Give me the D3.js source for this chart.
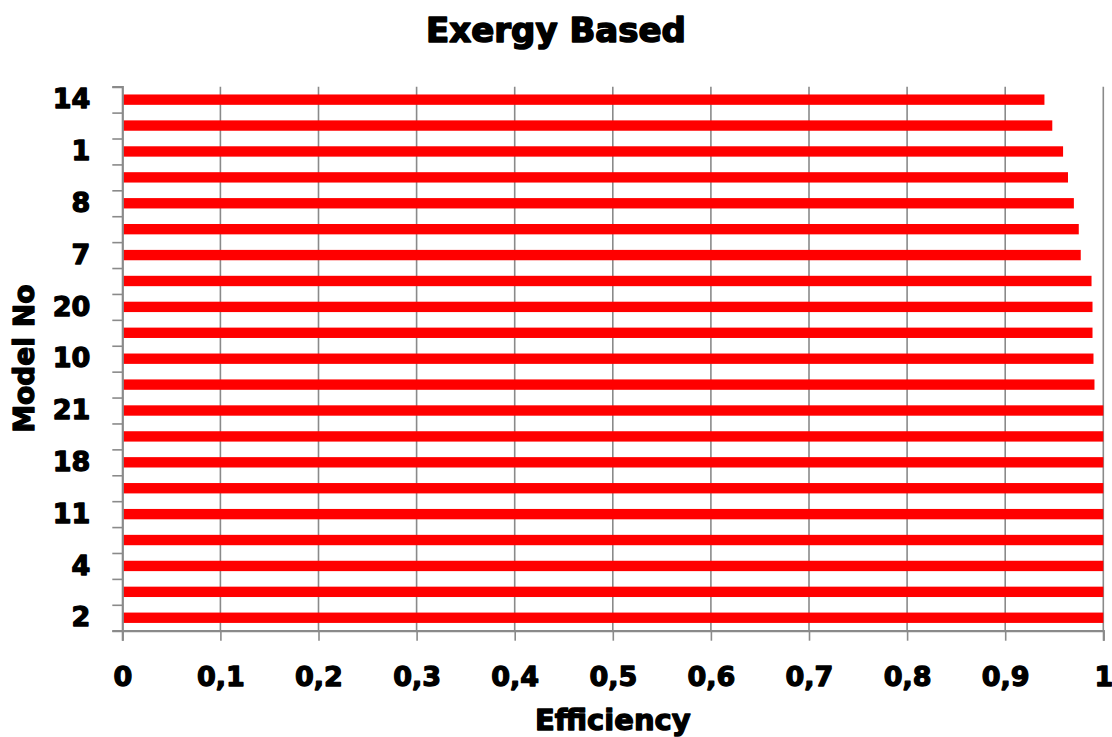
<!DOCTYPE html>
<html>
<head>
<meta charset="utf-8">
<script src="https://cdn.jsdelivr.net/npm/d3@7"></script>
<style>
  html, body { margin: 0; padding: 0; background: #fff; }
  svg { display: block; }
  text { font-family: "DejaVu Sans", sans-serif; font-weight: bold; fill: #000; }
</style>
</head>
<body>
<svg id="chart" width="1112" height="737"></svg>
<script>
// Categories listed from top bar to bottom bar
const models = ["14", "3", "1", "5", "8", "6", "7", "9", "20", "12", "10", "13", "21", "15", "18", "16", "11", "17", "4", "19", "2"];
// Only these model labels are printed on the axis
const shownLabels = ["14", "1", "8", "7", "20", "10", "21", "18", "11", "4", "2"];
const efficiency = [0.940, 0.948, 0.959, 0.964, 0.970, 0.975, 0.977, 0.988, 0.989, 0.989, 0.990, 0.991,
                    1.0, 1.0, 1.0, 1.0, 1.0, 1.0, 1.0, 1.0, 1.0];
const xTicks = [0, 0.1, 0.2, 0.3, 0.4, 0.5, 0.6, 0.7, 0.8, 0.9, 1];
const xTickLabels = ["0", "0,1", "0,2", "0,3", "0,4", "0,5", "0,6", "0,7", "0,8", "0,9", "1"];
const chartTitle = "Exergy Based";
const xTitle = "Efficiency";
const yTitle = "Model No";

(function () {
const svg = d3.select("#chart");
const W = 1112, H = 737;
const pL = 122.3, pR = 1103.3, pT = 86.7, pB = 630.7;

const x = d3.scaleLinear().domain([0, 1]).range([pL, pR]);
const y = d3.scaleBand().domain(models).range([pT, pB]).paddingInner(0.6).paddingOuter(0.3);
const yEdge = d3.scaleLinear().domain([0, models.length]).range([pT, pB]);

const grey = "#8a8a8a";

// vertical gridlines
svg.append("g").selectAll("line").data(xTicks.filter(d => d > 0)).join("line")
  .attr("x1", d => x(d)).attr("x2", d => x(d))
  .attr("y1", pT).attr("y2", pB)
  .attr("stroke", grey).attr("stroke-width", 1.6);

// bars
svg.append("g").selectAll("rect").data(models).join("rect")
  .attr("x", x(0))
  .attr("y", d => y(d))
  .attr("width", (d, i) => x(efficiency[i]) - x(0))
  .attr("height", y.bandwidth())
  .attr("fill", "#ff0000");

function heavy(sel, size, sw) {
  sel.attr("font-size", size).attr("font-family", "DejaVu Sans").attr("font-weight", "bold")
     .attr("fill", "#000").attr("stroke", "#000").attr("stroke-width", sw)
     .attr("stroke-linejoin", "round");
}

// bottom axis
const xAxis = d3.axisBottom(x).tickValues(xTicks).tickSize(10)
  .tickFormat((d, i) => xTickLabels[i]);
const gx = svg.append("g").attr("transform", `translate(0,${pB})`).call(xAxis);
gx.select(".domain").attr("stroke", grey).attr("stroke-width", 2.2);
gx.selectAll(".tick line").attr("stroke", grey).attr("stroke-width", 1.6);
gx.selectAll(".tick text").call(heavy, 27, 1.3).attr("dy", null).attr("y", 55);

// left axis: tick marks at band edges
const yEdgeAxis = d3.axisLeft(yEdge).tickValues(d3.range(models.length + 1)).tickSize(10).tickFormat("");
const gy = svg.append("g").attr("transform", `translate(${pL},0)`).call(yEdgeAxis);
gy.select(".domain").attr("stroke", grey).attr("stroke-width", 2.2);
gy.selectAll(".tick line").attr("stroke", grey).attr("stroke-width", 1.6);

// left axis labels
const yAxis = d3.axisLeft(y).tickSize(0).tickPadding(32)
  .tickFormat(d => shownLabels.includes(d) ? d : "");
const gyl = svg.append("g").attr("transform", `translate(${pL},0)`).call(yAxis);
gyl.select(".domain").remove();
gyl.selectAll(".tick text").call(heavy, 27, 1.3);

// titles
svg.append("text").attr("x", W / 2).attr("y", 42).attr("text-anchor", "middle")
  .call(heavy, 34, 1.6).text(chartTitle);
svg.append("text").attr("x", (pL + pR) / 2).attr("y", 730).attr("text-anchor", "middle")
  .call(heavy, 29, 1.3).text(xTitle);
svg.append("text").attr("transform", `translate(34,${(pT + pB) / 2}) rotate(-90)`)
  .attr("text-anchor", "middle").call(heavy, 28, 1.3).text(yTitle);
})();
</script>
</body>
</html>
